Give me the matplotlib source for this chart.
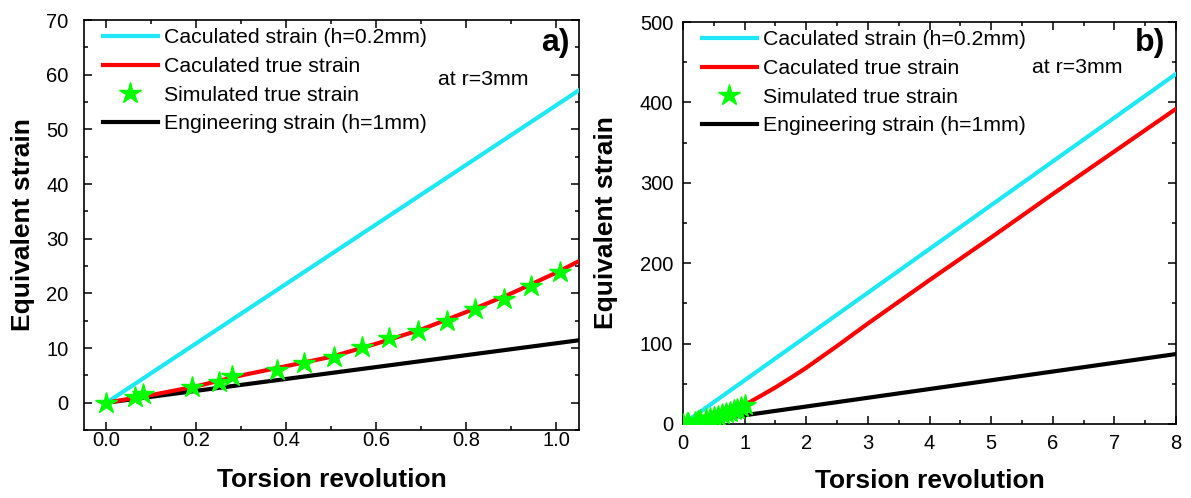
import numpy as np
from matplotlib import pyplot as plt
from matplotlib.ticker import MultipleLocator

plt.rcParams['font.family'] = ['Liberation Sans', 'DejaVu Sans']

# calculated strain (h=0.2mm) and engineering strain (h=1mm), straight lines
line_x = [0, 8]
calc_strain = [0, 435.4]
eng_strain = [0, 87.0]

# calculated true strain
true_x = [0, 0.1, 0.2, 0.3, 0.4, 0.5, 0.6, 0.7, 0.8, 0.9, 1.0, 1.1, 1.25, 1.5,
          1.75, 2.0, 2.5, 3.0, 3.5, 4.0, 5.0, 6.0, 7.0, 8.0]
true_y = [0, 1.4, 3.0, 5.0, 6.7, 8.4, 10.8, 13.4, 16.6, 20.0, 23.8, 28.0, 34.5, 45.5,
          57.5, 70, 97, 125, 152, 179, 232, 286, 339, 392]

# simulated true strain
sim_x = [0, 0.063, 0.081, 0.19, 0.25, 0.28, 0.379, 0.44, 0.505, 0.567, 0.628,
         0.693, 0.756, 0.82, 0.883, 0.944, 1.009]
sim_y = [0, 1.1, 1.5, 2.8, 3.8, 4.9, 6.0, 7.2, 8.3, 10.1, 11.9, 13.2, 15.0, 17.2,
         19.0, 21.4, 23.9]

fig = plt.figure(figsize=(11.91, 4.98), dpi=100)
ax1 = fig.add_axes([0.0705, 0.1365, 0.4156, 0.8233])
ax2 = fig.add_axes([0.5735, 0.1486, 0.4139, 0.8072])


def draw(ax):
    ax.plot(line_x, eng_strain, color='black', lw=3, zorder=2)
    ax.plot(line_x, calc_strain, color='#1ee8f5', lw=3, zorder=3,
            label='Caculated strain (h=0.2mm)')
    ax.plot(true_x, true_y, color='#ff0000', lw=3, zorder=4,
            label='Caculated true strain')
    ax.plot(sim_x, sim_y, ls='none', marker='*', ms=16, color='#00ff00',
            mec='#00ff00', zorder=5, label='Simulated true strain')
    ax.plot([], [], color='black', lw=3, label='Engineering strain (h=1mm)')
    ax.legend(loc='upper left', bbox_to_anchor=(0.025, 0.995), frameon=False,
              fontsize=15.3, handlelength=2.6, handletextpad=0.3,
              labelspacing=0.45, borderaxespad=0.1, borderpad=0.2)
    ax.set_xlabel('Torsion revolution', fontsize=19, fontweight='bold')
    ax.set_ylabel('Equivalent strain', fontsize=19, fontweight='bold')
    ax.tick_params(which='both', direction='in', top=True, right=True,
                   labelsize=14.5, width=1.1)
    ax.tick_params(which='major', length=6)
    ax.tick_params(which='minor', length=3)
    for s in ax.spines.values():
        s.set_linewidth(1.2)


draw(ax1)
ax1.set_xlim(-0.05, 1.05)
ax1.set_ylim(-5, 70)
ax1.xaxis.set_major_locator(MultipleLocator(0.2))
ax1.xaxis.set_minor_locator(MultipleLocator(0.1))
ax1.yaxis.set_major_locator(MultipleLocator(10))
ax1.yaxis.set_minor_locator(MultipleLocator(5))
ax1.xaxis.set_major_formatter(plt.FuncFormatter(lambda v, p: '%.1f' % v))
ax1.tick_params(axis='x', pad=1)
ax1.tick_params(axis='y', pad=11)
ax1.yaxis.set_label_coords(-0.099, 0.5)
ax1.xaxis.labelpad = 12.5
ax1.text(0.715, 0.854, 'at r=3mm', transform=ax1.transAxes, fontsize=15.3,
         va='center', ha='left')
ax1.text(0.982, 0.944, 'a)', transform=ax1.transAxes, fontsize=23,
         fontweight='bold', va='center', ha='right')

draw(ax2)
ax2.set_xlim(0, 8)
ax2.set_ylim(0, 500)
ax2.xaxis.set_major_locator(MultipleLocator(1))
ax2.xaxis.set_minor_locator(MultipleLocator(0.5))
ax2.yaxis.set_major_locator(MultipleLocator(100))
ax2.yaxis.set_minor_locator(MultipleLocator(50))
ax2.tick_params(axis='x', pad=7)
ax2.tick_params(axis='y', pad=7)
ax2.yaxis.set_label_coords(-0.132, 0.5)
ax2.xaxis.labelpad = 12
ax2.text(0.708, 0.888, 'at r=3mm', transform=ax2.transAxes, fontsize=15.3,
         va='center', ha='left')
ax2.text(0.978, 0.948, 'b)', transform=ax2.transAxes, fontsize=23,
         fontweight='bold', va='center', ha='right')

plt.savefig('out.png', dpi=100)
